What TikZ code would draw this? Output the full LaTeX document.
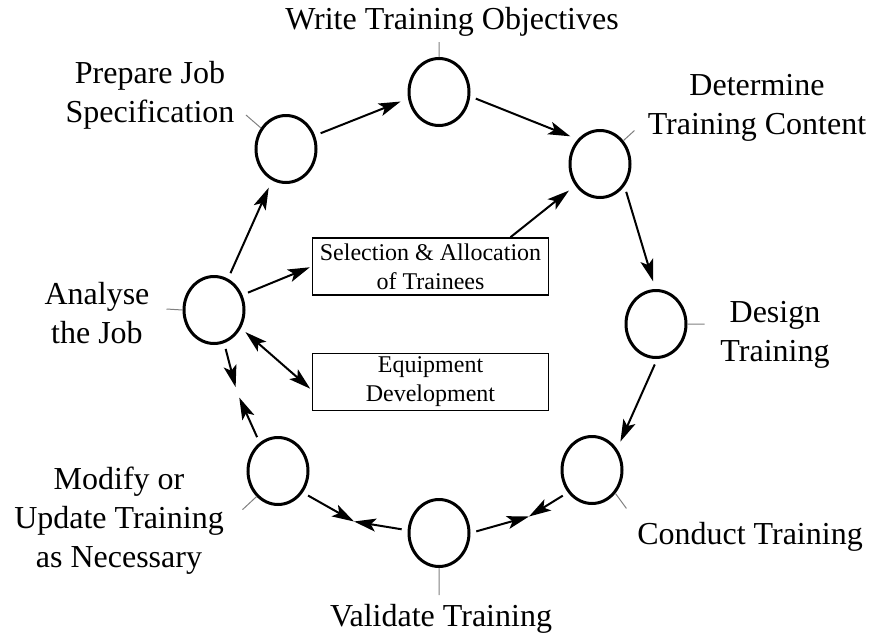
\documentclass[tikz,border=0pt]{standalone}
\usepackage{fontspec}
\setmainfont{Liberation Serif}
\usetikzlibrary{arrows.meta, positioning, shapes.geometric}

\tikzset{
  stage/.style={ellipse, draw, line width=1.5pt, minimum width=30pt, minimum height=33.5pt, inner sep=0pt},
  lbl/.style={align=center, inner sep=0pt, font=\fontsize{16}{19.5}\selectfont},
  task/.style={draw, line width=0.8pt, minimum width=118pt, minimum height=28.5pt, inner sep=0pt, align=center, font=\fontsize{12}{14.5}\selectfont},
  flow/.style={->, line width=1pt, shorten >=4pt, shorten <=3pt},
  biflow/.style={<->, line width=1pt, shorten >=1pt, shorten <=3pt},
  tick/.style={gray, line width=0.5pt}
}

\begin{document}
\begin{tikzpicture}[x=0.5pt, y=-0.5pt, >={Stealth[length=11pt,width=6.5pt,inset=2.5pt]}]
\useasboundingbox (0,0) rectangle (869,634);

% stages of the cycle
\node[stage] (ana) at (214,310) {};
\node[stage] (prep) at (286,149) {};
\node[stage] (write) at (439,92) {};
\node[stage] (det) at (600,164) {};
\node[stage] (des) at (656,324) {};
\node[stage] (cond) at (592,470) {};
\node[stage] (val) at (439,533) {};
\node[stage] (mod) at (278,471) {};

\node[task] (sel) at (430.5,266.5) {Selection \& Allocation\\of Trainees};
\node[task] (equip) at (430.5,382) {Equipment\\Development};

% labels
\node[lbl] (analbl) at (97,313) {Analyse\\the Job};
\node[lbl] (preplbl) at (150,95) {Prepare Job\\Specification};
\node[lbl] (writelbl) at (452,22) {Write Training Objectives};
\node[lbl] (detlbl) at (757,108) {Determine\\Training Content};
\node[lbl] (deslbl) at (775,335) {Design\\Training};
\node[lbl] (condlbl) at (750,537) {Conduct Training};
\node[lbl] (vallbl) at (441,619) {Validate Training};
\node[lbl] (modlbl) at (119,521) {Modify or\\Update Training\\as Necessary};

\coordinate (mCV) at (529,516.5);
\coordinate (mMV) at (354,521.5);
\coordinate (mAM) at (237,392.5);

\draw[tick] (write.north) -- ++(0,-15)
	(prep.140) -- ++(-15,-13)
	(det.45) -- ++(11,-10)
	(des.east) -- ++(17,0)
	(cond.-45) -- ++(11,15)
	(val.south) -- ++(0,27)
	(mod.230) -- ++(-14,13)
	(ana.west) -- ++(-16,-1);

\draw	(ana) edge[flow] (prep)
		(prep.25) edge[flow] (write.192)
		(write.-8) edge[flow] (det.132)
		(det.-42) edge[flow] (des.91)
		(des.-88) edge[flow] (cond.40)
		(cond.223) edge[flow, shorten >=0pt] (mCV)
		(val.0) edge[flow, shorten >=0pt] (mCV)
		(val.175) edge[flow, shorten >=0pt] (mMV)
		(mod.-41) edge[flow, shorten >=0pt] (mMV)
		(mod.123) edge[flow, shorten >=2.75pt] (mAM)
		(ana.-73) edge[flow, shorten >=2.75pt] (mAM)
		(ana.28) edge[flow, shorten >=1pt] (sel.west)
		(ana.-34) edge[biflow] ([yshift=-4pt]equip.west)
		([xshift=40pt]sel.north) edge[flow, shorten <=0pt] (det.221);

\end{tikzpicture}
\end{document}
